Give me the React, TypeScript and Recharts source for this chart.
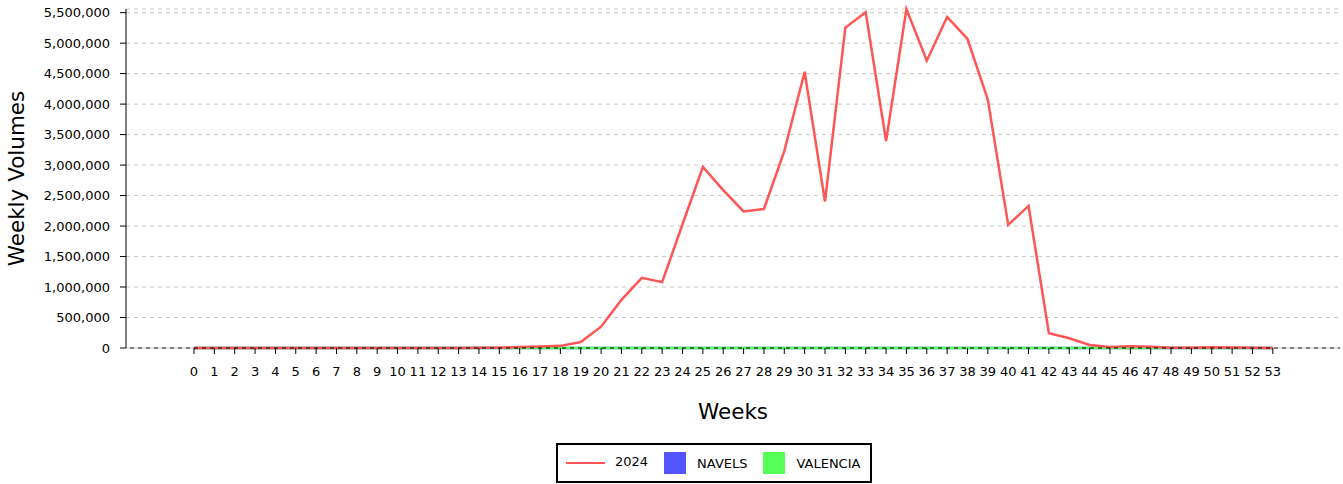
import { CartesianGrid, Label, Legend, Line, LineChart, XAxis, YAxis } from "recharts";

const weeks = [
  0, 1, 2, 3, 4, 5, 6, 7, 8, 9, 10, 11, 12, 13, 14, 15, 16, 17, 18, 19, 20, 21, 22, 23, 24, 25, 26,
  27, 28, 29, 30, 31, 32, 33, 34, 35, 36, 37, 38, 39, 40, 41, 42, 43, 44, 45, 46, 47, 48, 49, 50, 51, 52, 53,
];

const volumes2024 = [
  0, 0, 0, 0, 0, 1000, 1000, 0, 0, 0, 0, 1000, 1000, 2000, 5000, 5000, 15000, 25000, 35000, 98000,
  350000, 790000, 1150000, 1080000, 2030000, 2970000, 2590000, 2240000, 2280000, 3230000, 4530000,
  2400000, 5255000, 5505000, 3394000, 5560000, 4712000, 5429000, 5068000, 4072000, 2020000, 2330000,
  241000, 159000, 49000, 16000, 30000, 20000, 5000, 5000, 12000, 10000, 3000, 2000,
];

const navels = weeks.map(() => 0);
const valencia = weeks.map(() => 0);

const yTicks = [0, 500000, 1000000, 1500000, 2000000, 2500000, 3000000, 3500000, 4000000, 4500000, 5000000, 5500000];

const series = [
  { key: "y2024", name: "2024", color: "#ff5555", kind: "line" },
  { key: "navels", name: "NAVELS", color: "#5555ff", kind: "square" },
  { key: "valencia", name: "VALENCIA", color: "#55ff55", kind: "square" },
];

const data = weeks.map((week, i) => ({
  week,
  y2024: volumes2024[i],
  navels: navels[i],
  valencia: valencia[i],
}));

const font = "DejaVu Sans, sans-serif";

function LegendBox() {
  return (
    <div
      style={{
        border: "2px solid #000",
        boxSizing: "border-box",
        width: 316,
        height: 40,
        display: "flex",
        alignItems: "center",
        padding: "0 8px",
        fontFamily: font,
        fontSize: 13,
        color: "#000",
        background: "#fff",
      }}
    >
      {series.map((s) => (
        <div key={s.key} style={{ display: "flex", alignItems: "center", marginRight: 16 }}>
          {s.kind === "line" ? (
            <div style={{ width: 39, height: 2.5, background: s.color, marginRight: 10 }} />
          ) : (
            <div style={{ width: 22, height: 22, background: s.color, marginRight: 11 }} />
          )}
          <span style={{ marginTop: s.kind === "line" ? -4 : 0 }}>{s.name}</span>
        </div>
      ))}
    </div>
  );
}

export default function App() {
  return (
    <div style={{ width: 1343, height: 484, position: "relative", background: "#fff" }}>
      <style>{"body{margin:0}"}</style>
      <LineChart width={1343} height={484} data={data} margin={{ top: 9, right: 3, bottom: 0, left: 0 }}>
        <CartesianGrid vertical={false} stroke="#c8c8c8" strokeDasharray="4 4" />
        <XAxis
          dataKey="week"
          type="number"
          domain={[-3.34, 56.3]}
          ticks={weeks}
          interval={0}
          height={136}
          tickSize={6}
          tickMargin={13}
          axisLine={{ stroke: "#000", strokeDasharray: "4 4", strokeDashoffset: 4 }}
          tickLine={{ stroke: "#000" }}
          tick={{ fill: "#000", fontSize: 13, fontFamily: font }}
        >
          <Label
            content={({ viewBox }: any) => (
              <text x={viewBox.x + viewBox.width / 2} y={419} textAnchor="middle" fontSize={21.5} fontFamily={font} fill="#000">
                Weeks
              </text>
            )}
          />
        </XAxis>
        <YAxis
          width={126}
          domain={[0, 5560000]}
          ticks={yTicks}
          interval={0}
          tickSize={6}
          tickMargin={10}
          tickFormatter={(v: number) => v.toLocaleString("en-US")}
          axisLine={{ stroke: "#000" }}
          tickLine={{ stroke: "#000" }}
          tick={{ fill: "#000", fontSize: 13, fontFamily: font }}
        >
          <Label
            content={({ viewBox }: any) => {
              const cx = 24;
              const cy = viewBox.y + viewBox.height / 2;
              return (
                <text x={cx} y={cy} transform={`rotate(-90 ${cx} ${cy})`} textAnchor="middle" fontSize={21.5} fontFamily={font} fill="#000">
                  Weekly Volumes
                </text>
              );
            }}
          />
        </YAxis>
        <Legend
          layout="horizontal"
          verticalAlign="middle"
          align="center"
          wrapperStyle={{ top: 443, left: 556, width: 316, height: 40 }}
          content={() => <LegendBox />}
        />
        <Line dataKey="navels" name="NAVELS" stroke="#5555ff" strokeWidth={2.5} dot={false} isAnimationActive={false} />
        <Line dataKey="valencia" name="VALENCIA" stroke="#55ff55" strokeWidth={2.5} dot={false} isAnimationActive={false} />
        <Line dataKey="y2024" name="2024" stroke="#ff5555" strokeWidth={2.5} dot={false} isAnimationActive={false} />
      </LineChart>
    </div>
  );
}
